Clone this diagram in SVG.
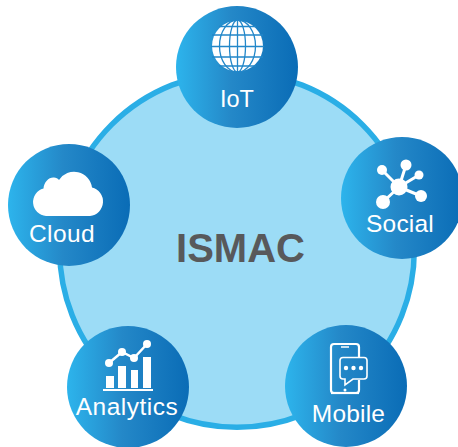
<svg xmlns="http://www.w3.org/2000/svg" width="458" height="447" viewBox="0 0 458 447">
<defs>
<linearGradient id="g" x1="0" y1="0" x2="1" y2="0"><stop offset="0" stop-color="#2db4ec"/><stop offset="0.45" stop-color="#2488c8"/><stop offset="1" stop-color="#0a6cb6"/></linearGradient>
</defs>
<style>
.n{fill:url(#g)}
.t{font-family:"Liberation Sans",Arial,sans-serif;font-size:24.500px;fill:#fff;text-anchor:middle;letter-spacing:.2px}
.w{fill:#fff}
.s{stroke:#fff;fill:none}
.m{stroke:#2287c9;fill:none;stroke-width:1.300}
</style>
<rect width="458" height="447" fill="#fff"/>
<g id="hub">
<circle cx="237" cy="250" r="177.300" fill="#9cdcf6" stroke="#2aaee6" stroke-width="5.500"/>
<text x="240.500" y="262" font-family="'Liberation Sans',Arial,sans-serif" font-size="40" font-weight="bold" fill="#58595b" text-anchor="middle">ISMAC</text>
</g>
<g id="connectors"></g>
<g id="iot">
<circle class="n" cx="237" cy="67" r="61"/>
<circle class="w" cx="237.500" cy="46" r="25.500"/>
<g class="m">
<ellipse cx="237.500" cy="46" rx="8" ry="26"/><ellipse cx="237.500" cy="46" rx="18" ry="26"/>
<path d="M237.500 20V72M211 46.500H264M212 35H263M212 57H263M219 26.500H256M219 66H256"/>
</g>
<text class="t" x="237" y="107" style="font-size:23.500px;letter-spacing:0">IoT</text>
</g>
<g id="social">
<circle class="n" cx="402" cy="198" r="61"/>
<g stroke="#fff" stroke-width="3"><path d="M399 187L382 170M399 187L406 165M399 187L419 175M399 187L421 196M399 187L383 202"/></g>
<circle class="w" cx="399" cy="187" r="8.500"/><circle class="w" cx="382" cy="170" r="5"/><circle class="w" cx="406" cy="165" r="5.500"/><circle class="w" cx="419" cy="175" r="4.500"/><circle class="w" cx="421" cy="196" r="6"/><circle class="w" cx="383" cy="202" r="7"/>
<text class="t" x="400" y="232">Social</text>
</g>
<g id="mobile">
<circle class="n" cx="346" cy="386" r="61"/>
<path d="M341 393H334a3 3 0 0 1-3-3V347a3 3 0 0 1 3-3H356a3 3 0 0 1 3 3V357M359 380V390a3 3 0 0 1-3 3H344" class="s" stroke-width="2.200"/>
<path d="M341 347H349" class="s" stroke-width="1.500"/>
<path d="M331 393H359" class="s" stroke-width="2.200"/>
<circle class="w" cx="345" cy="390" r="1.500"/>
<path d="M343 357.500H364a3 3 0 0 1 3 3V376a3 3 0 0 1-3 3H353L345 385V379H343a3 3 0 0 1-3-3V360.500a3 3 0 0 1 3-3Z" class="s" stroke-width="1.600"/>
<circle class="w" cx="346" cy="368" r="2.200"/><circle class="w" cx="353.500" cy="368" r="2.200"/><circle class="w" cx="361" cy="368" r="2.200"/>
<text class="t" x="348.500" y="422">Mobile</text>
</g>
<g id="analytics">
<circle class="n" cx="128" cy="387" r="61"/>
<path d="M109 363L122 352L134 358L147 344" class="s" stroke-width="2.500"/>
<circle class="w" cx="109" cy="363" r="4"/><circle class="w" cx="122" cy="352" r="4"/><circle class="w" cx="134" cy="358" r="4"/><circle class="w" cx="147" cy="344" r="4"/>
<path class="w" d="M106 376H114V388H106ZM118 366H126V388H118ZM131 370H138V388H131ZM143 357H151V388H143ZM103 389H153V391H103Z"/>
<text class="t" x="127" y="415" style="letter-spacing:.5px">Analytics</text>
</g>
<g id="cloud">
<circle class="n" cx="69" cy="205" r="61"/>
<path class="w" d="M46 216A14 14 0 0 1 43.500 188.500C44 182 49 177 54 177.500C56 177.500 58 178.500 59 180A18 18 0 0 1 92 187.500A14.500 14.500 0 0 1 90 216Z"/>
<text class="t" x="62" y="242" style="letter-spacing:.4px">Cloud</text>
</g>
</svg>
